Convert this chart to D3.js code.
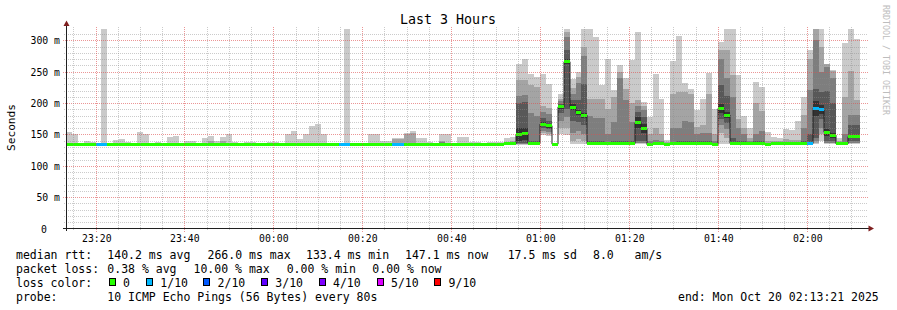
<!DOCTYPE html>
<html>
<head>
<meta charset="utf-8">
<script src="https://cdn.jsdelivr.net/npm/d3@7"></script>
<style>
  body { margin: 0; background: #fff; }
  svg { display: block; }
  text { font-family: "DejaVu Sans Mono", monospace; fill: #000; }
</style>
</head>
<body>
<div id="chart"></div>
<script>
// rrd step layout
var firstStep = "2025-10-19 23:13:20";
var graphEnd = "2025-10-20 02:13:21";
var stepSeconds = 80;

// median rtt of every 80s step (ms), null = step not finished
var median = [
  134.5,134.5,134.5,134.5,134.5,134.5,134.5,134.5,134.5,134.5,
  134.5,134.5,134.5,134.5,134.5,134.5,134.5,134.5,134.5,134.5,
  134.5,134.5,134.5,134.5,134.5,134.5,134.5,134.5,134.5,134.5,
  134.5,134.5,134.5,134.5,134.5,134.5,134.5,134.5,134.5,134.5,
  134.5,134.5,134.5,134.5,134.5,134.5,134.5,134.5,134.5,134.5,
  134.5,134.5,134.5,134.5,134.5,134.5,134.5,134.5,134.5,134.5,
  134.5,134.5,134.5,134.5,134.5,134.5,134.5,134.5,134.5,134.5,
  134.5,134.5,134.5,134.5,135,135,150,151,136,136,
  166.5,164,134.5,194,266,193.5,185,181,135.5,135.5,
  135.5,135.5,135.5,135.5,135.5,135.5,169,159.5,133.5,135.5,
  135.5,133.5,135.5,135.5,135.5,135.5,135.5,135.5,135.5,133.5,
  191.5,181,136,135.5,135.5,135.5,135.5,135.5,134,135,
  135,135,135,135,135.5,135.5,191.5,189.5,153.5,149,
  135,135,146.5,147,null
];

// lost pings per step (out of 10)
var lost = [
  0,0,0,0,0,1,1,0,0,0, 0,0,0,0,0,0,0,0,0,0,
  0,0,0,0,0,0,0,0,0,0, 0,0,0,0,0,0,0,0,0,0,
  0,0,0,0,0,0,1,1,0,0, 0,0,0,0,0,1,1,0,0,0,
  0,0,0,0,0,0,0,0,0,0, 0,0,0,0,0,0,0,0,0,0,
  0,0,0,0,0,0,0,0,0,0, 0,0,0,0,0,0,0,0,0,0,
  0,0,0,0,0,0,0,0,0,0, 0,0,0,0,0,0,0,0,0,0,
  0,0,0,0,0,1,1,1,0,0, 0,0,0,0,0
];

// the ten pings of every step, sorted (ms)
var pings = [
  [133,133,134,134,134,135,135,135,136,154],
  [133,133,134,134,134,135,135,135,136,150],
  [133,133,134,134,134,135,135,135,136,136],
  [133,133,134,134,134,135,135,135,136,140],
  [133,133,134,134,134,135,135,135,136,138],
  [133,133,134,134,134,135,135,135,136,136],
  [133,133,134,134,134,135,135,135,136,319],
  [133,133,134,134,134,135,135,135,136,136],
  [133,133,134,134,134,135,135,135,136,141],
  [133,133,134,134,134,135,135,135,136,143],
  [133,133,134,134,134,135,135,135,136,138],
  [133,133,134,134,134,135,135,135,136,136],
  [133,133,134,134,134,135,135,135,136,154],
  [133,133,134,134,134,135,135,135,136,151],
  [133,133,134,134,134,135,135,135,136,136],
  [133,133,134,134,134,135,135,135,136,138],
  [133,133,134,134,134,135,135,135,136,136],
  [133,133,134,134,134,135,135,135,136,146],
  [133,133,134,134,134,135,135,135,136,148],
  [133,133,134,134,134,135,135,135,136,136],
  [133,133,134,134,134,135,135,135,136,139],
  [133,133,134,134,134,135,135,135,136,140],
  [133,133,134,134,134,135,135,135,136,136],
  [133,133,134,134,134,135,135,135,136,144],
  [133,133,134,134,134,135,135,135,140,148],
  [133,133,134,134,134,135,135,135,136,140],
  [133,133,134,134,134,135,135,135,140,146],
  [133,133,134,134,134,135,135,135,136,150],
  [133,133,134,134,134,135,135,135,136,138],
  [133,133,134,134,134,135,135,135,136,137],
  [133,133,134,134,134,135,135,135,136,138],
  [133,133,134,134,134,135,135,135,136,138],
  [133,133,134,134,134,135,135,135,136,136],
  [133,133,134,134,134,135,135,135,136,136],
  [133,133,134,134,134,135,135,135,136,138],
  [133,133,134,134,134,135,135,135,136,138],
  [133,133,134,134,134,135,135,135,136,136],
  [133,133,134,134,134,135,135,135,137,150],
  [133,133,134,134,134,135,135,135,137,156],
  [133,133,134,134,134,135,135,135,136,143],
  [133,133,134,134,134,135,135,135,136,150],
  [133,133,134,134,134,135,135,135,137,163],
  [133,133,134,134,134,135,135,135,137,167],
  [133,133,134,134,134,135,135,135,136,151],
  [133,133,134,134,134,135,135,135,136,136],
  [133,133,134,134,134,135,135,135,136,136],
  [133,133,134,134,134,135,135,135,136,136],
  [133,133,134,134,134,135,135,135,136,319],
  [133,133,134,134,134,135,135,135,136,136],
  [133,133,134,134,134,135,135,135,136,136],
  [133,133,134,134,134,135,135,135,136,136],
  [133,133,134,134,134,135,135,135,136,150],
  [133,133,134,134,134,135,135,135,136,150],
  [133,133,134,134,134,135,135,135,136,140],
  [133,133,134,134,134,135,135,135,136,140],
  [133,133,134,134,134,135,135,135,143,144],
  [133,133,134,134,134,135,135,135,143,144],
  [133,133,134,134,134,135,135,136,150,153],
  [133,133,134,134,134,135,135,136,152,155],
  [133,133,134,134,134,135,135,135,136,145],
  [133,133,134,134,134,135,135,135,136,145],
  [133,133,134,134,134,135,135,135,136,138],
  [133,133,134,134,134,135,135,135,136,136],
  [133,133,134,134,134,135,135,138,140,150],
  [133,133,134,134,134,135,135,135,136,151],
  [133,133,134,134,134,135,135,135,136,136],
  [133,133,134,134,134,135,135,135,136,146],
  [133,133,134,134,134,135,135,135,136,146],
  [133,133,134,134,134,135,135,135,136,138],
  [133,133,134,134,134,135,135,135,136,138],
  [133,133,134,134,134,135,135,135,136,136],
  [133,133,134,134,134,135,135,135,136,138],
  [133,133,134,134,134,135,135,135,136,138],
  [133,133,134,134,134,135,135,135,136,138],
  [133,134,134,134,135,135,135,136,137,145],
  [133,134,134,135,135,135,136,137,139,146],
  [133,134,135,137,140,160,200,211,237,262],
  [133,134,135,137,141,161,202,213,237,271],
  [133,133,134,134,135,137,140,185,229,246],
  [133,133,134,134,135,137,140,180,225,242],
  [149,152,156,160,163,170,176,186,196,247],
  [148,151,154,158,161,167,172,182,192,231],
  [133,133,134,134,134,135,135,135,136,137],
  [150,160,172,185,191,197,199,203,207,214],
  [149,160,178,190,262,270,285,306,313,319],
  [135,140,152,172,189,198,205,215,224,238],
  [135,142,155,170,181,189,205,232,242,250],
  [135,140,150,165,177,185,230,275,290,319],
  [133,134,134,135,135,136,140,180,206,319],
  [133,134,134,135,135,136,140,176,206,306],
  [133,134,134,135,135,136,140,176,206,229],
  [133,134,134,135,135,136,138,150,190,271],
  [133,134,134,135,135,136,140,170,210,221],
  [133,134,134,135,135,136,140,240,250,261],
  [133,134,134,135,135,136,140,205,222,240],
  [133,134,134,135,135,136,140,170,200,269],
  [135,136,137,140,160,178,186,195,205,313],
  [135,136,137,140,152,167,178,189,195,201],
  [132,133,133,133,133,134,135,140,150,178],
  [133,134,134,135,135,136,137,141,160,246],
  [133,134,134,135,135,136,137,140,150,206],
  [132,133,133,133,133,134,135,136,138,141],
  [133,134,134,135,135,136,138,160,214,267],
  [133,134,134,135,135,136,140,160,218,307],
  [133,134,134,135,135,136,140,172,218,232],
  [133,134,134,135,135,136,140,170,214,223],
  [133,134,134,135,135,136,140,150,162,189],
  [133,134,134,135,135,136,140,152,165,206],
  [133,134,134,135,135,136,140,152,214,248],
  [132,133,133,133,133,134,135,140,150,191],
  [135,152,165,175,185,198,229,271,284,297],
  [135,145,158,168,176,186,212,240,285,319],
  [133,134,135,135,135,137,145,210,245,319],
  [133,134,134,135,135,136,140,160,175,245],
  [133,134,134,135,135,136,140,150,160,180],
  [133,134,134,135,135,136,137,140,145,160],
  [133,134,134,135,135,136,140,150,200,233],
  [133,134,134,135,135,136,140,155,187,225],
  [132,133,133,134,134,134,135,137,140,154],
  [133,134,134,134,135,135,136,137,139,146],
  [133,134,134,134,135,135,136,137,139,144],
  [133,134,134,134,135,135,136,138,142,159],
  [133,134,134,134,135,135,136,138,141,157],
  [133,134,134,134,135,135,136,138,141,171],
  [133,134,134,135,135,136,140,160,181,210],
  [133,134,134,135,135,136,150,221,270,285],
  [134,136,140,145,180,203,223,300,318,319],
  [140,150,160,175,182,197,218,250,290,319],
  [135,136,137,140,148,159,220,258,262,263],
  [135,136,137,140,145,153,200,240,252,253],
  [133,134,134,135,135,135,136,138,140,144],
  [133,134,134,135,135,135,136,150,210,296],
  [135,136,137,140,144,149,165,181,252,319],
  [135,136,137,140,145,149,165,181,205,303],
  null
];

var yTicks = [0, 50, 100, 150, 200, 250, 300];
var yTickLabels = ["0", "50 m", "100 m", "150 m", "200 m", "250 m", "300 m"];

var lossLevels = [0, 1, 2, 3, 4, 5, 9];
var lossLabels = ["0", "1/10", "2/10", "3/10", "4/10", "5/10", "9/10"];
var lossColors = ["#26ff00", "#00b8ff", "#0059ff", "#5e00ff", "#7e00ff", "#dd00ff", "#ff0000"];

// outer pair of pings lightest, inner pair darkest
var smokeColors = ["#cacaca", "#a4a4a4", "#7e7e7e", "#585858", "#323232"];

var legendRtt = ["median rtt:", "140.2 ms avg", "266.0 ms max", "133.4 ms min", "147.1 ms now", "17.5 ms sd", "8.0   am/s"];
var legendLoss = ["packet loss:", "0.38 % avg", "10.00 % max", "0.00 % min", "0.00 % now"];
var legendProbe = ["probe:", "10 ICMP Echo Pings (56 Bytes) every 80s"];
var endLabel = "end: Mon Oct 20 02:13:21 2025";

var W = 897, H = 310;
var plotLeft = 66, plotRight = 866, plotTop = 28.5, plotBottom = 228.5;

var parseTime = d3.timeParse("%Y-%m-%d %H:%M:%S");
var tFirst = parseTime(firstStep);
var tEnd = parseTime(graphEnd);
var tStart = d3.timeHour.offset(tEnd, -3);

var x = d3.scaleTime().domain([tStart, tEnd]).range([plotLeft, plotRight]);
var y = d3.scaleLinear().domain([0, 319]).range([plotBottom, plotTop]);

function lossColor(n) {
  var c = lossColors[0];
  lossLevels.forEach(function(l, i) { if (n >= l) c = lossColors[i]; });
  return c;
}

var steps = [];
median.forEach(function(m, i) {
  if (m == null) return;
  var a = d3.timeSecond.offset(tFirst, i * stepSeconds);
  var b = d3.timeSecond.offset(a, stepSeconds);
  steps.push({x0: Math.round(x(a)), x1: Math.round(x(b)), median: m, lost: lost[i], pings: pings[i]});
});

var svg = d3.select("#chart").append("svg")
    .attr("width", W)
    .attr("height", H);

svg.append("rect").attr("width", W).attr("height", H).attr("fill", "#fff");

svg.append("defs").append("clipPath")
    .attr("id", "clip")
  .append("rect")
    .attr("x", plotLeft).attr("y", plotTop)
    .attr("width", plotRight - plotLeft).attr("height", plotBottom - plotTop);

var graph = svg.append("g").attr("clip-path", "url(#clip)");

// smoke: one band per pair of pings
smokeColors.forEach(function(col, b) {
  graph.append("g")
    .selectAll("rect")
    .data(steps)
    .enter()
    .append("rect")
      .attr("x", function(d) { return d.x0; })
      .attr("width", function(d) { return d.x1 - d.x0; })
      .attr("y", function(d) { return y(d.pings[9 - b]); })
      .attr("height", function(d) { return y(d.pings[b]) - y(d.pings[9 - b]); })
      .attr("fill", col)
      .attr("shape-rendering", "crispEdges");
});

// thin median step line
var linePts = steps.map(function(d) { return [d.x0, y(d.median)]; });
var lastStep = steps[steps.length - 1];
linePts.push([lastStep.x1, y(lastStep.median)]);
graph.append("path")
    .attr("d", d3.line().curve(d3.curveStepAfter)(linePts))
    .attr("fill", "none")
    .attr("stroke", "#202020")
    .attr("stroke-width", 1);

// median coloured by loss
graph.append("g")
  .selectAll("rect")
  .data(steps)
  .enter()
  .append("rect")
    .attr("x", function(d) { return d.x0; })
    .attr("width", function(d) { return d.x1 - d.x0; })
    .attr("y", function(d) { return y(d.median) - 1.5; })
    .attr("height", 3)
    .attr("fill", function(d) { return lossColor(d.lost); })
    .attr("shape-rendering", "crispEdges");

// grid
var grid = svg.append("g").attr("shape-rendering", "crispEdges");
var minorY = d3.range(10, 320, 10).filter(function(v) { return v % 50 !== 0; });
grid.selectAll(".hmin").data(minorY).enter().append("line")
    .attr("x1", plotLeft - 2).attr("x2", plotRight + 2)
    .attr("y1", function(v) { return Math.round(y(v)) + 0.5; })
    .attr("y2", function(v) { return Math.round(y(v)) + 0.5; })
    .attr("stroke", "rgba(140,140,140,0.45)")
    .attr("stroke-dasharray", "1,1");
grid.selectAll(".hmaj").data(yTicks.slice(1)).enter().append("line")
    .attr("x1", plotLeft - 3).attr("x2", plotRight + 2)
    .attr("y1", function(v) { return Math.round(y(v)) + 0.5; })
    .attr("y2", function(v) { return Math.round(y(v)) + 0.5; })
    .attr("stroke", "rgba(222,80,80,0.6)")
    .attr("stroke-dasharray", "1,1");

var minorX = x.ticks(d3.timeMinute.every(5)).filter(function(t) { return t.getMinutes() % 20 !== 0; });
var majorX = x.ticks(d3.timeMinute.every(20));
grid.selectAll(".vmin").data(minorX).enter().append("line")
    .attr("x1", function(t) { return Math.round(x(t)) + 0.5; })
    .attr("x2", function(t) { return Math.round(x(t)) + 0.5; })
    .attr("y1", plotTop - 2).attr("y2", plotBottom + 2)
    .attr("stroke", "rgba(140,140,140,0.45)")
    .attr("stroke-dasharray", "1,1");
grid.selectAll(".vmaj").data(majorX).enter().append("line")
    .attr("x1", function(t) { return Math.round(x(t)) + 0.5; })
    .attr("x2", function(t) { return Math.round(x(t)) + 0.5; })
    .attr("y1", plotTop - 2).attr("y2", plotBottom + 3)
    .attr("stroke", "rgba(222,80,80,0.6)")
    .attr("stroke-dasharray", "1,1");

// axes with arrows
svg.append("line")
    .attr("x1", plotLeft + 0.5).attr("x2", plotLeft + 0.5)
    .attr("y1", plotBottom + 2).attr("y2", 24)
    .attr("stroke", "#202020").attr("shape-rendering", "crispEdges");
svg.append("line")
    .attr("x1", plotLeft - 3).attr("x2", plotRight + 4)
    .attr("y1", plotBottom).attr("y2", plotBottom)
    .attr("stroke", "#202020").attr("shape-rendering", "crispEdges");
svg.append("path")
    .attr("d", "M63.5,26L69.5,26L66.5,20.5Z")
    .attr("fill", "#7f1f1f");
svg.append("path")
    .attr("d", "M868.5,225.5L868.5,231.5L874,228.5Z")
    .attr("fill", "#7f1f1f");

// axis labels
svg.append("g").selectAll("text")
  .data(yTicks)
  .enter()
  .append("text")
    .attr("x", function(v) { return v === 0 ? 47 : 60; })
    .attr("y", function(v) { return y(v) + 4; })
    .attr("text-anchor", "end")
    .style("font-size", "9.8px")
    .text(function(v, i) { return yTickLabels[i]; });

var fmt = d3.timeFormat("%H:%M");
svg.append("g").selectAll("text")
  .data(majorX)
  .enter()
  .append("text")
    .attr("x", function(t) { return Math.round(x(t)) + 0.8; })
    .attr("y", 241.5)
    .attr("text-anchor", "middle")
    .style("font-size", "9.8px")
    .text(function(t) { return fmt(t); });

svg.append("text")
    .attr("x", 448).attr("y", 24)
    .attr("text-anchor", "middle")
    .style("font-size", "13.3px")
    .text("Last 3 Hours");

svg.append("text")
    .attr("transform", "translate(15,127.5) rotate(-90)")
    .attr("text-anchor", "middle")
    .style("font-size", "11.2px")
    .text("Seconds");

svg.append("text")
    .attr("transform", "translate(883,5) rotate(90)")
    .style("font-size", "8.3px")
    .style("fill", "#bdbdbd")
    .text("RRDTOOL / TOBI OETIKER");

// legend
function legendRow(items, xs, yy) {
  items.forEach(function(s, i) {
    svg.append("text")
        .attr("x", xs[i]).attr("y", yy)
        .attr("xml:space", "preserve")
        .style("white-space", "pre")
        .style("font-size", "11.5px")
        .text(s);
  });
}
legendRow(legendRtt, [16, 107.3, 207.5, 306, 405, 507.7, 593], 258.5);
legendRow(legendLoss, [16, 107.3, 193.5, 286.7, 372.3], 272.5);
legendRow(["loss color:"], [16], 286.5);
legendRow(legendProbe, [16, 107.3], 300.5);
legendRow([endLabel], [678], 300.5);

var boxX = [108.7, 146, 203.3, 261, 318.7, 376.7, 434.3];
lossLabels.forEach(function(l, i) {
  svg.append("rect")
      .attr("x", Math.round(boxX[i]) + 0.5).attr("y", 278.5)
      .attr("width", 6).attr("height", 7)
      .attr("fill", lossColors[i])
      .attr("stroke", "#000")
      .attr("stroke-width", 1);
  svg.append("text")
      .attr("x", boxX[i] + 14.3).attr("y", 286.5)
      .style("font-size", "11.5px")
      .text(l);
});
</script>
</body>
</html>
